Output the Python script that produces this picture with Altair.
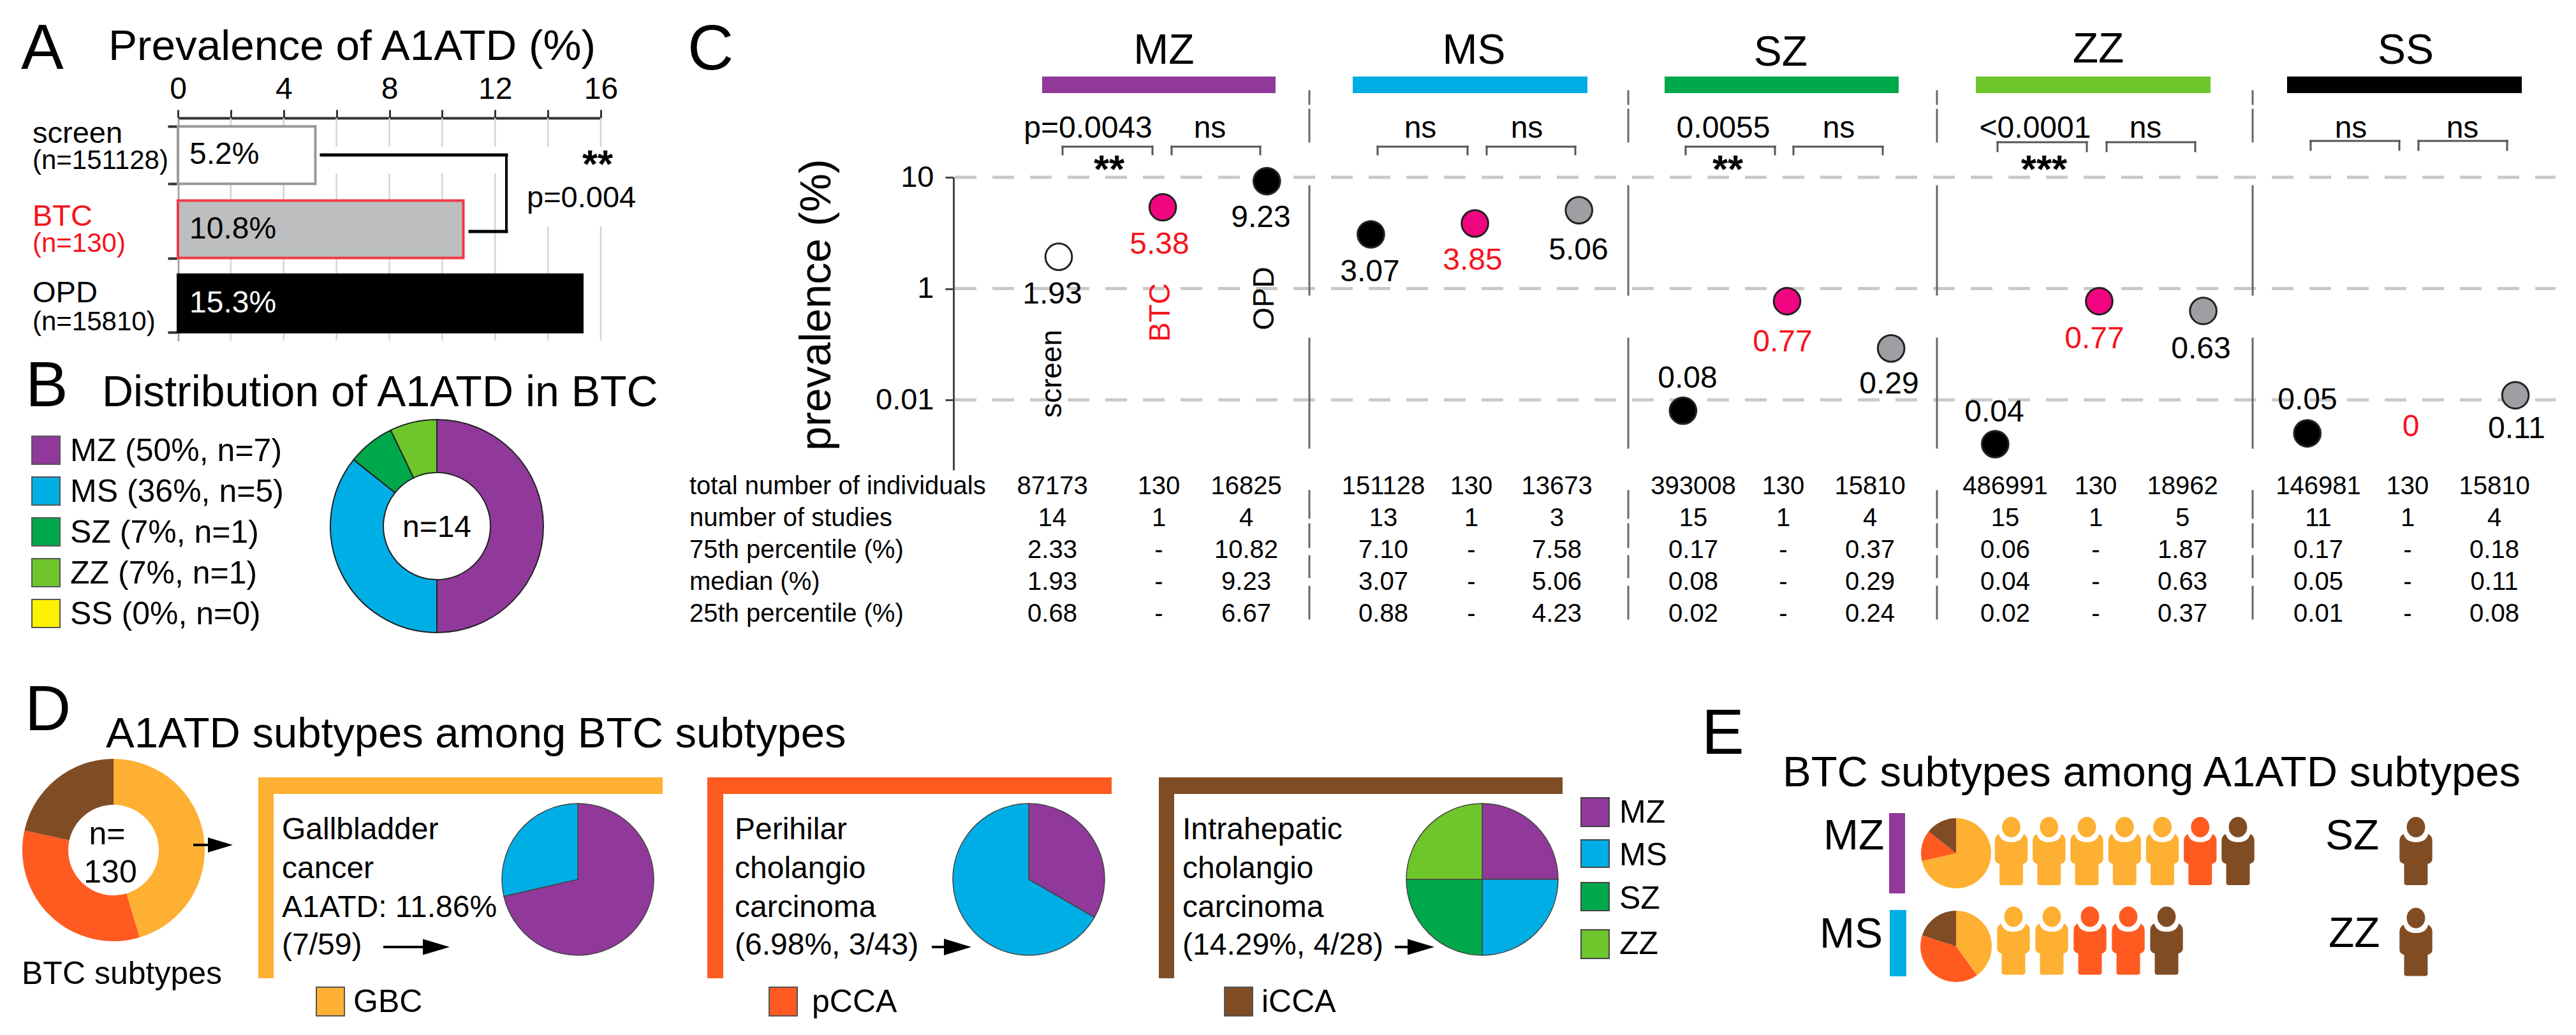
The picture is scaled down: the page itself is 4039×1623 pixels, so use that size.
import altair as alt
import pandas as pd

FONT = "Liberation Sans"
W, H = 4023, 1607

# ---------- data ----------
a_sources = ["screen", "BTC", "OPD"]
a_values = [5.2, 10.8, 15.3]
a_labels = ["5.2%", "10.8%", "15.3%"]
a_grid = [0, 2, 4, 6, 8, 10, 12, 14, 16]

b_names = ["MZ", "MS", "SZ", "ZZ", "SS"]
b_counts = [7, 5, 1, 1, 0]
b_legend = ["MZ (50%, n=7)", "MS (36%, n=5)", "SZ (7%, n=1)", "ZZ (7%, n=1)", "SS (0%, n=0)"]

c_groups = ["MZ", "MS", "SZ", "ZZ", "SS"]
c_sources = ["screen", "BTC", "OPD"]
c_values = [1.93, 5.38, 9.23, 3.07, 3.85, 5.06, 0.08, 0.77, 0.29, 0.04, 0.77, 0.63, 0.05, 0, 0.11]
c_kinds = ["open", "btc", "black", "black", "btc", "grey", "black", "btc", "grey",
           "black", "btc", "grey", "black", "btc", "grey"]
c_axis_ticks = [10, 1, 0.1]
t_rows = ["total number of individuals", "number of studies", "75th percentile (%)",
          "median (%)", "25th percentile (%)"]
t_total = ["87173", "130", "16825", "151128", "130", "13673", "393008", "130", "15810",
           "486991", "130", "18962", "146981", "130", "15810"]
t_studies = ["14", "1", "4", "13", "1", "3", "15", "1", "4", "15", "1", "5", "11", "1", "4"]
t_p75 = ["2.33", "-", "10.82", "7.10", "-", "7.58", "0.17", "-", "0.37", "0.06", "-", "1.87", "0.17", "-", "0.18"]
t_med = ["1.93", "-", "9.23", "3.07", "-", "5.06", "0.08", "-", "0.29", "0.04", "-", "0.63", "0.05", "-", "0.11"]
t_p25 = ["0.68", "-", "6.67", "0.88", "-", "4.23", "0.02", "-", "0.24", "0.02", "-", "0.37", "0.01", "-", "0.08"]

d_btc_names = ["GBC", "pCCA", "iCCA"]
d_btc_counts = [59, 43, 28]
d_gbc = [5, 2]
d_pcca = [1, 2]
d_icca = [1, 1, 1, 1]

e_mz_pie = [5, 1, 1]
e_ms_pie = [2, 2, 1]
e_mz_people = ["GBC", "GBC", "GBC", "GBC", "GBC", "pCCA", "iCCA"]
e_ms_people = ["GBC", "GBC", "pCCA", "pCCA", "iCCA"]

# ---------- palette ----------
PAL = alt.Scale(domain=["MZ", "MS", "SZ", "ZZ", "SS", "GBC", "pCCA", "iCCA"],
                range=["#90399A", "#00AEE6", "#00A84C", "#6EC62C", "#FFF200", "#FDB032", "#FF5A20", "#7F4C24"])
RED = "#F5141E"
L = []


def one():
    return alt.Chart(pd.DataFrame({"t": ["x"]}))


def T(s, x, y, size, color="black", align="left", angle=0, weight="normal"):
    xx, yy = x - 8, y - 8
    if angle == 270:
        xx += 0.358 * size
    else:
        yy += 0.358 * size
    kw = {"angle": angle} if angle else {}
    L.append(alt.Chart(pd.DataFrame({"t": [s]})).mark_text(
        font=FONT, fontSize=size, color=color, align=align, baseline="alphabetic",
        fontWeight=weight, **kw).encode(text="t:N", x=alt.value(xx), y=alt.value(yy)))


def R(x1, y1, x2, y2, color, stroke=None, sw=0):
    kw = {"stroke": stroke, "strokeWidth": sw} if stroke else {}
    L.append(one().mark_rect(color=color, **kw).encode(
        x=alt.value(x1 - 8), x2=alt.value(x2 - 8), y=alt.value(y1 - 8), y2=alt.value(y2 - 8)))


def S(x1, y1, x2, y2, color="black", w=3):
    L.append(one().mark_rule(color=color, strokeWidth=w, strokeCap="square").encode(
        x=alt.value(x1 - 8), x2=alt.value(x2 - 8), y=alt.value(y1 - 8), y2=alt.value(y2 - 8)))


def ARROW(x1, base, x2, y):
    S(x1, y, base, y, "black", 4)
    wid = x2 - base
    L.append(one().mark_point(shape="M-1,-0.6L1,0L-1,0.6Z", filled=True, color="black",
                              opacity=1, size=wid * wid, strokeWidth=0).encode(
        x=alt.value(base + wid / 2 - 8), y=alt.value(y - 8)))


def PIE(names, vals, cx, cy, r, ir=0, stroke=None, sw=0):
    df = pd.DataFrame({"n": names, "v": vals, "i": range(len(vals))})
    kw = {"stroke": stroke, "strokeWidth": sw} if stroke else {}
    L.append(alt.Chart(df).mark_arc(outerRadius=r, innerRadius=ir, **kw).encode(
        theta=alt.Theta("v:Q", stack=True),
        color=alt.Color("n:N", scale=PAL, legend=None),
        order=alt.Order("i:Q"),
        x=alt.value(cx - 8), y=alt.value(cy - 8)))


# ---------- panel A ----------
T("A", 33, 72, 100)
T("Prevalence of A1ATD (%)", 170, 70, 67.5)
ax = alt.Scale(domain=[0, 16], range=[279 - 8, 942 - 8], nice=False)
ay = alt.Scale(domain=a_sources, range=[185 - 8, 534 - 8], paddingInner=0.226, paddingOuter=0.113)
L.append(alt.Chart(pd.DataFrame({"g": a_grid})).mark_rule(color="#D4D4D4", strokeWidth=2.5).encode(
    x=alt.X("g:Q", scale=ax, axis=None), y=alt.value(185 - 8), y2=alt.value(534 - 8)))
R(503, 230, 1000, 272, "white")
R(810, 272, 1000, 355, "white")
adf = pd.DataFrame({"s": a_sources, "v": a_values, "l": a_labels})
L.append(alt.Chart(adf).mark_bar(strokeWidth=4).encode(
    x=alt.X("v:Q", scale=ax, axis=alt.Axis(orient="top", offset=-(185 - 8), values=a_grid, title=None, grid=False,
                                           labelExpr="datum.value % 4 == 0 ? datum.label : ''",
                                           labelFont=FONT, labelFontSize=48, labelColor="black", labelPadding=8,
                                           tickSize=13, tickWidth=3, tickColor="#333",
                                           domainColor="#333", domainWidth=4, labelFlush=False, labelOverlap=False)),
    y=alt.Y("s:N", scale=ay, axis=alt.Axis(orient="left", offset=-(279 - 8), labels=False, title=None, grid=False,
                                           tickBand="extent", tickSize=16, tickWidth=4, tickColor="#333",
                                           domainColor="#333", domainWidth=3)),
    fill=alt.Fill("s:N", scale=alt.Scale(domain=a_sources, range=["white", "#BCBEC0", "black"]), legend=None),
    stroke=alt.Stroke("s:N", scale=alt.Scale(domain=a_sources, range=["#999999", "#F03A46", "black"]), legend=None)))
L.append(alt.Chart(adf).mark_text(font=FONT, fontSize=48, align="left", baseline="middle", dx=0).encode(
    text="l:N", x=alt.value(297 - 8), y=alt.Y("s:N", scale=ay, axis=None),
    fill=alt.Fill("s:N", scale=alt.Scale(domain=a_sources, range=["black", "black", "white"]), legend=None)))
T("screen", 51, 207, 47)
T("(n=151128)", 51, 250, 42)
T("BTC", 51, 337, 47, RED)
T("(n=130)", 51, 380, 42, RED)
T("OPD", 51, 457, 47)
T("(n=15810)", 51, 503, 42)
S(504, 243, 794, 243, "black", 5)
S(794, 243, 794, 363, "black", 4)
S(737, 363, 794, 363, "black", 5)
T("**", 937, 256, 62, align="center", weight="bold")
T("p=0.004", 826, 308, 47)

# ---------- panel B ----------
T("B", 40, 601, 100)
T("Distribution of A1ATD in BTC", 160, 613, 68)
for k, lab in enumerate(b_legend):
    y0 = 684 + 64 * k
    R(50, y0, 94, y0 + 44, PAL.range[k], "#555555", 2)
    T(lab, 110, y0 + 21, 50)
PIE(b_names, b_counts, 685, 825, 167, 84, "#222222", 2)
T("n=14", 685, 825, 48, align="center")

# ---------- panel C ----------
T("C", 1078, 73, 100)
T("prevalence (%)", 1278, 478, 68, align="center", angle=270)
cx = alt.Scale(domain=[0, 14], range=[1660 - 8, 3944 - 8], nice=False)
cy = alt.Scale(type="log", base=10, domain=[0.02344, 10], range=[737 - 8, 278 - 8], nice=False)
L.append(alt.Chart(pd.DataFrame({"v": c_axis_ticks})).mark_rule(
    color="#C9CAC8", strokeWidth=5, strokeDash=[34, 25]).encode(
    y=alt.Y("v:Q", scale=cy, axis=None), x=alt.value(1497 - 8), x2=alt.value(4007 - 8)))
for xd in [2053, 2553, 3037, 3532]:
    for y1, y2 in [(143, 163), (172, 222), (292, 462), (531, 702), (770, 812), (822, 858), (872, 905), (920, 970)]:
        S(xd, y1, xd, y2, "#666666", 3)
groups_rep = [g for g in c_groups for _ in c_sources]
sources_rep = c_sources * len(c_groups)
cdf = pd.DataFrame({"g": groups_rep, "s": sources_rep, "v": c_values, "k": c_kinds,
                    "slot": range(len(c_values))})
cdf = cdf[cdf.v > 0]
L.append(alt.Chart(cdf).mark_circle(size=1735, opacity=1, stroke="#222222", strokeWidth=3).encode(
    x=alt.X("slot:Q", scale=cx, axis=None),
    y=alt.Y("v:Q", scale=cy, axis=alt.Axis(orient="left", offset=-(1495 - 8), values=c_axis_ticks, title=None, grid=False,
                                           labelExpr="datum.value < 0.5 ? '0.01' : format(datum.value, 'd')",
                                           labelFont=FONT, labelFontSize=47, labelColor="black", labelPadding=18,
                                           tickSize=13, tickWidth=3, tickColor="#444",
                                           domainColor="#444", domainWidth=3, labelOverlap=False)),
    fill=alt.Fill("k:N", scale=alt.Scale(domain=["open", "btc", "black", "grey"],
                                         range=["white", "#F0047F", "black", "#9D9FA2"]), legend=None)))
labels_c = [("1.93", 1650, 459, "black"), ("5.38", 1818, 381, RED), ("9.23", 1977, 339, "black"),
            ("3.07", 2148, 424, "black"), ("3.85", 2309, 406, RED), ("5.06", 2475, 390, "black"),
            ("0.08", 2646, 591, "black"), ("0.77", 2795, 534, RED), ("0.29", 2962, 600, "black"),
            ("0.04", 3127, 644, "black"), ("0.77", 3284, 529, RED), ("0.63", 3451, 545, "black"),
            ("0.05", 3618, 625, "black"), ("0", 3780, 667, RED), ("0.11", 3946, 670, "black")]
for s, x, y, col in labels_c:
    T(s, x, y, 48, col, "center")
T("screen", 1648, 586, 46, align="center", angle=270)
T("BTC", 1818, 490, 46, RED, "center", 270)
T("OPD", 1981, 468, 46, align="center", angle=270)

for name, tx, ty, x1, x2, col in [("MZ", 1825, 76, 1634, 2000, "#90399A"), ("MS", 2311, 76, 2121, 2489, "#00AEE6"),
                                  ("SZ", 2792, 79, 2610, 2977, "#00A84C"), ("ZZ", 3290, 74, 3098, 3466, "#6EC62C"),
                                  ("SS", 3772, 76, 3586, 3954, "black")]:
    T(name, tx, ty, 66, align="center")
    R(x1, 120, x2, 146, col)


def BR(x1, x2, y1, y2):
    S(x1, y1, x2, y1, "#555555", 3)
    S(x1, y1, x1, y2, "#555555", 3)
    S(x2, y1, x2, y2, "#555555", 3)


for x1, x2, y1, y2 in [(1666, 1807, 230, 242), (1837, 1976, 230, 242), (2160, 2301, 230, 242), (2331, 2470, 230, 242),
                       (2643, 2783, 230, 242), (2812, 2952, 230, 242), (3132, 3272, 223, 237), (3303, 3442, 223, 237),
                       (3623, 3762, 221, 235), (3792, 3931, 221, 235)]:
    BR(x1, x2, y1, y2)
for s, x in [("p=0.0043", 1706), ("ns", 1897), ("ns", 2227), ("ns", 2394), ("0.0055", 2702), ("ns", 2883),
             ("<0.0001", 3191), ("ns", 3364), ("ns", 3686), ("ns", 3861)]:
    T(s, x, 199, 48, align="center")
for s, x in [("**", 1739), ("**", 2709), ("***", 3205)]:
    T(s, x, 264, 62, align="center", weight="bold")

# table
t_x = [1650, 1817, 1954, 2169, 2307, 2441, 2655, 2796, 2932, 3144, 3286, 3422, 3635, 3775, 3911]
ty_scale = alt.Scale(type="point", domain=t_rows, range=[763 - 8, 963 - 8], padding=0)
L.append(alt.Chart(pd.DataFrame({"r": t_rows})).mark_text(font=FONT, fontSize=40, align="left", baseline="middle").encode(
    text="r:N", x=alt.value(1081 - 8), y=alt.Y("r:N", scale=ty_scale, axis=None)))
for j, px in enumerate(t_x):
    col = [t_total[j], t_studies[j], t_p75[j], t_med[j], t_p25[j]]
    L.append(alt.Chart(pd.DataFrame({"r": t_rows, "c": col})).mark_text(
        font=FONT, fontSize=40, align="center", baseline="middle").encode(
        text="c:N", x=alt.value(px - 8), y=alt.Y("r:N", scale=ty_scale, axis=None)))

# ---------- panel D ----------
T("D", 39, 1109, 100)
T("A1ATD subtypes among BTC subtypes", 166, 1148, 67)
PIE(d_btc_names, d_btc_counts, 178, 1333, 143, 71)
T("n=", 168, 1306, 50, align="center")
T("130", 173, 1366, 50, align="center")
T("BTC subtypes", 34, 1525, 50)
ARROW(305, 326, 365, 1325)
for x0, x1, xv, col in [(405, 1039, 429, "#FDB032"), (1109, 1743, 1134, "#FF5A20"), (1817, 2450, 1841, "#7F4C24")]:
    R(x0, 1219, x1, 1245, col)
    R(x0, 1219, xv, 1534, col)
for lines, x in [(["Gallbladder", "cancer", "A1ATD: 11.86%", "(7/59)"], 442),
                 (["Perihilar", "cholangio", "carcinoma", "(6.98%, 3/43)"], 1152),
                 (["Intrahepatic", "cholangio", "carcinoma", "(14.29%, 4/28)"], 1854)]:
    for s, y in zip(lines, [1299, 1360, 1421, 1480]):
        T(s, x, y, 48)
ARROW(603, 663, 705, 1485)
ARROW(1463, 1480, 1523, 1485)
ARROW(2189, 2207, 2249, 1485)
PIE(["MZ", "MS"], d_gbc, 906, 1379, 119, 0, "#444444", 1.5)
PIE(["MZ", "MS"], d_pcca, 1613, 1379, 119, 0, "#444444", 1.5)
PIE(["MZ", "MS", "SZ", "ZZ"], d_icca, 2324, 1379, 119, 0, "#444444", 1.5)
for name, x0, tx, col in [("GBC", 496, 554, "#FDB032"), ("pCCA", 1206, 1273, "#FF5A20"), ("iCCA", 1920, 1978, "#7F4C24")]:
    R(x0, 1548, x0 + 44, 1593, col, "#555555", 2)
    T(name, tx, 1569, 50)
for name, y1, y2, tc, col in [("MZ", 1251, 1296, 1272, "#90399A"), ("MS", 1317, 1360, 1339, "#00AEE6"),
                              ("SZ", 1384, 1428, 1407, "#00A84C"), ("ZZ", 1458, 1503, 1478, "#6EC62C")]:
    R(2479, y1, 2523, y2, col, "#444444", 2)
    T(name, 2539, tc, 50)

# ---------- panel E ----------
T("E", 2668, 1146, 100)
T("BTC subtypes among A1ATD subtypes", 2795, 1209, 67)
T("MZ", 2859, 1308, 66)
T("MS", 2853, 1462, 66)
R(2962, 1275, 2987, 1401, "#90399A")
R(2963, 1427, 2989, 1531, "#00AEE6")
PIE(d_btc_names, e_mz_pie, 3067, 1338, 55)
PIE(d_btc_names, e_ms_pie, 3067, 1484, 56)
PERSON = ("M-0.27,-0.70A0.27,0.30 0 1 1 0.27,-0.70A0.27,0.30 0 1 1 -0.27,-0.70Z"
          "M-0.36,-0.50Q-0.30,-0.26 0,-0.26Q0.30,-0.26 0.36,-0.50Q0.48,-0.44 0.48,-0.30L0.48,0.24"
          "Q0.48,0.34 0.345,0.38L0.345,0.93Q0.345,1 0.27,1L-0.27,1Q-0.345,1 -0.345,0.93L-0.345,0.38"
          "Q-0.48,0.34 -0.48,0.24L-0.48,-0.30Q-0.48,-0.44 -0.36,-0.50Z")


def PEOPLE(names, x1, x2, y):
    df = pd.DataFrame({"i": range(len(names)), "n": names})
    sc = alt.Scale(domain=[0, max(len(names) - 1, 1)], range=[x1 - 8, x2 - 8], nice=False)
    L.append(alt.Chart(df).mark_point(shape=PERSON, filled=True, opacity=1, size=107 * 107, strokeWidth=0).encode(
        x=alt.X("i:Q", scale=sc, axis=None), y=alt.value(y - 8),
        color=alt.Color("n:N", scale=PAL, legend=None)))


PEOPLE(e_mz_people, 3153.5, 3509, 1334.5)
PEOPLE(e_ms_people, 3157, 3397, 1475)
T("SZ", 3646, 1308, 66)
T("ZZ", 3651, 1461, 66)
PEOPLE(["iCCA"], 3788, 3848, 1334.5)
PEOPLE(["iCCA"], 3788, 3848, 1477)

chart = alt.layer(*L).resolve_scale(x="independent", y="independent", theta="independent",
                                    fill="independent", stroke="independent").properties(
    width=W, height=H, padding=0, background="white",
    autosize=alt.AutoSizeParams(type="none")).configure_view(stroke=None)
chart.save("out.html", embed_options={"renderer": "svg", "actions": False})
